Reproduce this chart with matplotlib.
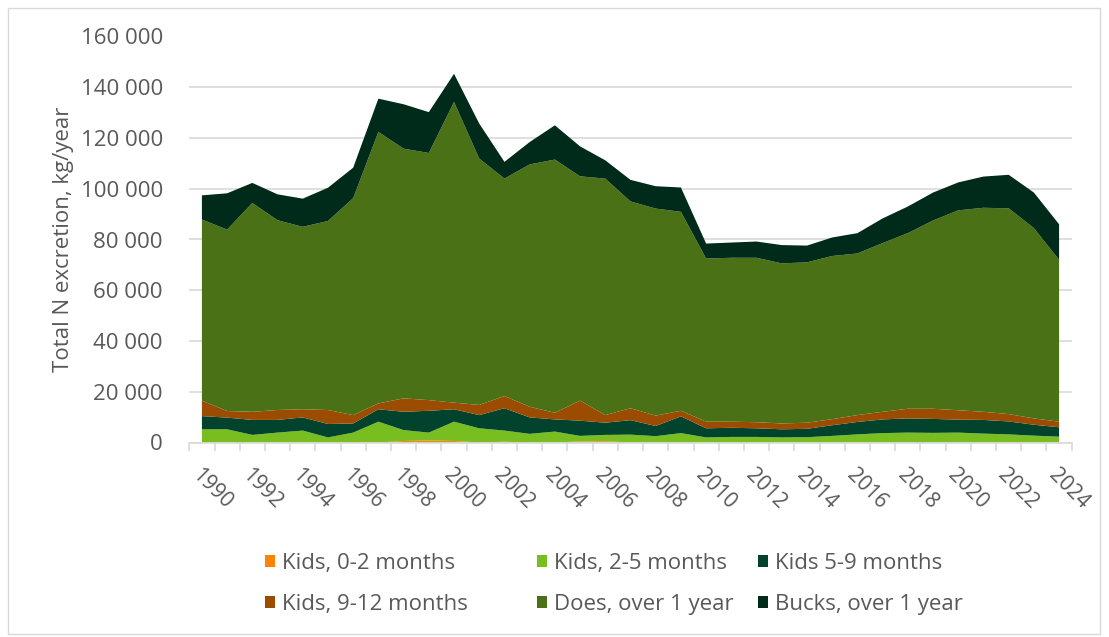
"""Stacked area chart: total N excretion from goats, 1990-2024."""
import matplotlib

matplotlib.use("Agg")
import matplotlib.pyplot as plt
import matplotlib.ticker as ticker
from matplotlib.patches import Patch, Rectangle

years = list(range(1990, 2025))

kids_0_2 = [0, 0, 0, 0, 0, 0, 200, 0, 600, 800, 600, 0, 300, 0, 0, 400, 500, 0, 0, 0,
            0, 0, 0, 0, 0, 0, 0, 0, 0, 0, 0, 0, 0, 0, 0]
kids_2_5 = [5200, 5200, 3000, 3900, 4700, 2000, 3700, 8200, 4300, 3100, 7600, 5600, 4400, 3400,
            4300, 2200, 2500, 3100, 2500, 3700, 2000, 2200, 2200, 2000, 2100, 2600, 3200, 3700,
            3900, 3800, 3900, 3500, 3200, 2700, 2300]
kids_5_9 = [5200, 4600, 5900, 5000, 5200, 5300, 3600, 4900, 7200, 8600, 4900, 5200, 8800, 6500,
            4800, 6000, 4800, 5700, 4000, 6600, 3600, 3600, 3400, 3200, 3300, 4200, 4900, 5400,
            5600, 5500, 5100, 5400, 5100, 4300, 3700]
kids_9_12 = [6100, 2600, 3200, 3900, 3200, 5500, 3300, 2300, 5300, 4200, 2600, 4000, 4800, 4200,
             2600, 7900, 3000, 4700, 4100, 2200, 2600, 2400, 2400, 2300, 2400, 2400, 2700, 3000,
             3800, 4000, 3700, 3200, 2900, 2500, 2200]
does = [71400, 71500, 82300, 74800, 71900, 74500, 85500, 107000, 98400, 97400, 118500, 97100,
        85700, 95500, 99800, 88400, 93200, 81500, 81600, 78400, 64300, 64600, 64800, 63100,
        63200, 64300, 63700, 66500, 69200, 74200, 78800, 80400, 81100, 75000, 63800]
bucks = [9500, 14300, 7900, 10200, 11100, 13100, 12000, 13100, 17500, 16100, 11100, 13800, 6600,
         8800, 13500, 11800, 7200, 8500, 8800, 9600, 5900, 6000, 6400, 7200, 6600, 7300, 8000,
         9700, 10500, 11000, 11000, 12300, 13200, 14000, 14000]

labels = ["Kids, 0-2 months", "Kids, 2-5 months", "Kids 5-9 months",
          "Kids, 9-12 months", "Does, over 1 year", "Bucks, over 1 year"]
colors = ["#FF8200", "#78BE20", "#01432C", "#9C4C00", "#4A7116", "#002A1A"]

TEXT = "#595959"
GRID = "#d9d9d9"
FS = 16

plt.rcParams["font.family"] = ["Open Sans", "DejaVu Sans"]

W, H = 1109, 637
fig = plt.figure(figsize=(W / 100, H / 100), dpi=100)
fig.patch.set_facecolor("white")

# plot area in pixels: x 189..1072, y 36.5..442.5
ax = fig.add_axes([189.3 / W, (H - 442.5) / H, 882.4 / W, 406 / H])

x = list(range(len(years)))
ax.stackplot(x, kids_0_2, kids_2_5, kids_5_9, kids_9_12, does, bucks,
             colors=colors, labels=labels, linewidth=0)

ax.set_xlim(-0.5, len(years) - 0.5)
ax.set_ylim(0, 160000)

# y axis
ax.yaxis.set_major_locator(ticker.MultipleLocator(20000))
ax.yaxis.set_major_formatter(
    ticker.FuncFormatter(lambda v, _: f"{int(v):,}".replace(",", " ")))
ax.tick_params(axis="y", length=0, pad=19, labelsize=FS, labelcolor=TEXT)
ax.grid(axis="y", color=GRID, linewidth=1.2)
ax.set_axisbelow(True)
ax.set_ylabel("Total N excretion, kg/year", fontsize=FS, color=TEXT, labelpad=5)

# x axis: labels every other year at centres, ticks between categories
ax.set_xticks(x[::2])
ax.set_xticklabels([str(y) for y in years[::2]], rotation=-45, ha="left", va="top",
                   rotation_mode="anchor")
ax.set_xticks([i - 0.5 for i in range(len(years) + 1)], minor=True)
ax.tick_params(axis="x", which="major", length=0, pad=16, labelsize=FS - 1, labelcolor=TEXT)
ax.tick_params(axis="x", which="minor", length=6, width=1.2, color=GRID, direction="out")

for side in ["top", "right", "left"]:
    ax.spines[side].set_visible(False)
ax.spines["bottom"].set_color(GRID)
ax.spines["bottom"].set_linewidth(1.2)

# legend: three columns placed like the original (row-major order)
handles = [Patch(facecolor=c, label=l) for c, l in zip(colors, labels)]
col_left = [265, 537, 758]
for col, left in enumerate(col_left):
    idx = [col, col + 3]
    fig.legend([handles[i] for i in idx], [labels[i] for i in idx],
               loc="center left", bbox_to_anchor=(left / W, 1 - 584 / H),
               frameon=False, fontsize=FS, labelcolor=TEXT, borderpad=0,
               borderaxespad=0, handlelength=0.45, handleheight=0.45,
               handletextpad=0.3, labelspacing=0.9)

# chart border
fig.add_artist(Rectangle((8 / W, 3 / H), 1092 / W, 626 / H, transform=fig.transFigure,
                         fill=False, edgecolor=GRID, linewidth=1))

fig.savefig("out.png", dpi=100)
